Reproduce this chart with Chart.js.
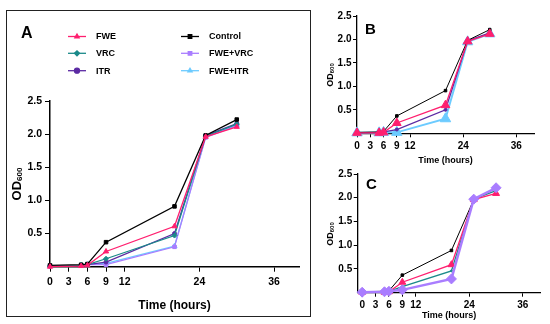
<!DOCTYPE html>
<html>
<head>
<meta charset="utf-8">
<script src="https://cdn.jsdelivr.net/npm/chart.js@4/dist/chart.umd.min.js"></script>
<style>
  body { margin: 0; background: #fff; width: 550px; height: 324px; position: relative; overflow: hidden; }
  #boxA { position: absolute; left: 6px; top: 10px; width: 305px; height: 307px; box-sizing: border-box; border: 1.5px solid #222; }
  canvas { position: absolute; }
</style>
</head>
<body>
<div id="boxA"></div>
<canvas id="chartA" width="302" height="304" style="left:7px;top:11px"></canvas>
<canvas id="chartB" width="228" height="163" style="left:322px;top:5px"></canvas>
<canvas id="chartC" width="228" height="156" style="left:322px;top:168px"></canvas>
<script>
const FONT = "'Liberation Sans', Arial, sans-serif";

// sampling times (hours) and axis ticks
const times = [0, 5, 6, 9, 20, 25, 30];
const xTicks = [0, 3, 6, 9, 12, 24, 36];

// panel A
const aFwe     = [0.00, 0.01, 0.02, 0.23, 0.61, 1.96, 2.11];
const aVrc     = [0.01, 0.02, 0.03, 0.12, 0.47, 1.97, 2.15];
const aItr     = [0.01, 0.02, 0.03, 0.07, 0.50, 1.98, 2.16];
const aControl = [0.02, 0.03, 0.04, 0.37, 0.91, 1.98, 2.22];
const aFweVrc  = [0.01, 0.02, 0.03, 0.03, 0.30, 1.95, 2.13];
const aFweItr  = [0.01, 0.02, 0.03, 0.05, 0.31, 1.96, 2.14];

// panel B
const bControl = [0.02, 0.03, 0.04, 0.37, 0.91, 1.98, 2.21];
const bFwe     = [0.01, 0.01, 0.02, 0.22, 0.60, 1.96, 2.12];
const bItr     = [0.01, 0.02, 0.03, 0.08, 0.50, 1.97, 2.14];
const bFweItr  = [0.01, 0.01, 0.02, 0.02, 0.31, 1.95, 2.12];

// panel C
const cControl = [0.02, 0.03, 0.04, 0.37, 0.89, 1.96, 2.20];
const cFwe     = [0.01, 0.01, 0.02, 0.22, 0.59, 1.96, 2.09];
const cVrc     = [0.01, 0.02, 0.03, 0.13, 0.46, 1.97, 2.15];
const cFweVrc  = [0.01, 0.02, 0.03, 0.06, 0.29, 1.97, 2.21];

const colors = {
    fwe: '#ff1f6f',
    vrc: '#1b8a8a',
    itr: '#5b2aa3',
    control: '#000000',
    fweVrc: '#a97dff',
    fweItr: '#6ccbff'
};

function series(label, values, color, style, radius, width) {
    return {
        label: label,
        data: values.map((v, i) => ({ x: times[i], y: v })),
        borderColor: color,
        backgroundColor: color,
        pointStyle: style,
        pointRadius: radius,
        pointBorderWidth: 1,
        borderWidth: width,
        clip: false,
        tension: 0
    };
}

function makeScales(p) {
    return {
        x: {
            type: 'linear',
            min: p.xMin,
            max: 40,
            afterBuildTicks: s => { s.ticks = xTicks.map(v => ({ value: v })); },
            afterFit: s => { s.height = p.xHeight; s.paddingLeft = 0; s.paddingRight = 0; },
            grid: { drawOnChartArea: false, color: '#000', tickLength: p.tickLen, lineWidth: 1 },
            border: { color: '#000', width: p.axisW },
            ticks: {
                color: '#000', autoSkip: false, maxRotation: 0, padding: p.xPad,
                font: { family: FONT, size: p.tick, weight: 'bold' },
                callback: v => String(v)
            },
            title: {
                display: true, text: 'Time (hours)', color: '#000',
                font: { family: FONT, size: p.title, weight: 'bold' },
                padding: { top: 0, bottom: p.titlePad }
            }
        },
        y: {
            min: 0,
            max: 2.5,
            afterFit: s => { s.width = p.yWidth; s.paddingTop = 0; s.paddingBottom = 0; },
            grid: {
                drawOnChartArea: false, tickLength: p.tickLen, lineWidth: 1,
                color: c => (c.tick && c.tick.value === 0) ? 'rgba(0,0,0,0)' : '#000'
            },
            border: { color: '#000', width: p.axisW },
            ticks: {
                stepSize: 0.5, color: '#000', padding: p.yPad,
                font: { family: FONT, size: p.tick, weight: 'bold' },
                callback: v => v === 0 ? '' : v.toFixed(1)
            }
        }
    };
}

// panel letter, OD600 axis title and (for A) the two-column legend
const extras = {
    id: 'extras',
    afterDraw(chart) {
        const o = chart.options.plugins.extras;
        const ctx = chart.ctx;
        ctx.save();
        ctx.fillStyle = '#000';
        ctx.textBaseline = 'middle';
        ctx.textAlign = 'left';
        ctx.font = 'bold ' + o.letterSize + 'px ' + FONT;
        ctx.fillText(o.letter, o.letterX, o.letterY);

        // OD600 rotated with subscript
        ctx.translate(o.odX, o.odY);
        ctx.rotate(-Math.PI / 2);
        ctx.textBaseline = 'alphabetic';
        const big = 'bold ' + o.odSize + 'px ' + FONT;
        const small = 'bold ' + Math.round(o.odSize * 0.62) + 'px ' + FONT;
        ctx.font = big;
        const w1 = ctx.measureText('OD').width;
        ctx.font = small;
        const w2 = ctx.measureText('600').width;
        const start = -(w1 + w2) / 2;
        ctx.font = big;
        ctx.fillText('OD', start, 0);
        ctx.font = small;
        ctx.fillText('600', start + w1, o.odSize * 0.12);
        ctx.restore();

        if (o.legend) {
            ctx.save();
            ctx.font = 'bold 9px ' + FONT;
            ctx.textBaseline = 'middle';
            o.legend.forEach(item => {
                const ds = chart.data.datasets.find(d => d.label === item.label);
                ctx.strokeStyle = ds.borderColor;
                ctx.fillStyle = ds.borderColor;
                ctx.lineWidth = 1.3;
                ctx.beginPath();
                ctx.moveTo(item.x, item.y);
                ctx.lineTo(item.x + 18, item.y);
                ctx.stroke();
                Chart.helpers.drawPoint(ctx, { pointStyle: ds.pointStyle, radius: 2.5, rotation: 0, borderWidth: 1 }, item.x + 9, item.y);
                ctx.fillStyle = '#000';
                ctx.fillText(item.label, item.x + 28, item.y + 0.5);
            });
            ctx.restore();
        }
    }
};

function baseOptions(padding, scales, extra) {
    return {
        responsive: false,
        animation: false,
        devicePixelRatio: 1,
        layout: { padding: padding },
        scales: scales,
        plugins: { legend: { display: false }, tooltip: { enabled: false }, extras: extra }
    };
}

new Chart(document.getElementById('chartA'), {
    type: 'line',
    data: {
        datasets: [
            series('FWE', aFwe, colors.fwe, 'triangle', 3, 1.3),
            series('Control', aControl, colors.control, 'rect', 2.5, 1.3),
            series('VRC', aVrc, colors.vrc, 'rectRot', 2.5, 1.3),
            series('ITR', aItr, colors.itr, 'circle', 2, 1.3),
            series('FWE+VRC', aFweVrc, colors.fweVrc, 'rect', 2.5, 1.3),
            series('FWE+ITR', aFweItr, colors.fweItr, 'triangle', 3, 1.3)
        ]
    },
    options: baseOptions(
        { left: 0, top: 90, right: 10, bottom: 0 },
        makeScales({ xMin: 0, xHeight: 48.3, yWidth: 43, tickLen: 5, xPad: 4.5, yPad: 3, tick: 10.5, title: 12, titlePad: 2, axisW: 1.5 }),
        {
            letter: 'A', letterX: 14, letterY: 23, letterSize: 16,
            odX: 13.5, odY: 173, odSize: 13,
            legend: [
                { label: 'FWE', x: 61, y: 25.5 },
                { label: 'VRC', x: 61, y: 42.3 },
                { label: 'ITR', x: 61, y: 59.7 },
                { label: 'Control', x: 174, y: 25.5 },
                { label: 'FWE+VRC', x: 174, y: 42.3 },
                { label: 'FWE+ITR', x: 174, y: 59.7 }
            ]
        }
    ),
    plugins: [extras]
});

new Chart(document.getElementById('chartB'), {
    type: 'line',
    data: {
        datasets: [
            series('FWE', bFwe, colors.fwe, 'triangle', 5, 1.3),
            series('Control', bControl, colors.control, 'rect', 1.8, 1),
            series('ITR', bItr, colors.itr, 'circle', 1.5, 1.3),
            series('FWE+ITR', bFweItr, colors.fweItr, 'triangle', 6, 2)
        ]
    },
    options: baseOptions(
        { left: 0, top: 11, right: 16, bottom: 0 },
        makeScales({ xMin: 0, xHeight: 34.7, yWidth: 35, tickLen: 4, xPad: 3, yPad: 1.5, tick: 10, title: 9, titlePad: 2.5, axisW: 1.3 }),
        { letter: 'B', letterX: 43, letterY: 25, letterSize: 15, odX: 11, odY: 70, odSize: 9 }
    ),
    plugins: [extras]
});

new Chart(document.getElementById('chartC'), {
    type: 'line',
    data: {
        datasets: [
            series('FWE+VRC', cFweVrc, colors.fweVrc, 'rectRot', 5, 2.5),
            series('FWE', cFwe, colors.fwe, 'triangle', 4, 1.3),
            series('Control', cControl, colors.control, 'rect', 1.8, 1),
            series('VRC', cVrc, colors.vrc, 'circle', 1, 1.3)
        ]
    },
    options: baseOptions(
        { left: 0, top: 5.3, right: 9.3, bottom: 0 },
        makeScales({ xMin: -1, xHeight: 31.3, yWidth: 35.7, tickLen: 4, xPad: 3, yPad: 1.5, tick: 10, title: 9, titlePad: 3.3, axisW: 1.3 }),
        { letter: 'C', letterX: 44, letterY: 17, letterSize: 15, odX: 11, odY: 66, odSize: 9 }
    ),
    plugins: [extras]
});
</script>
</body>
</html>
